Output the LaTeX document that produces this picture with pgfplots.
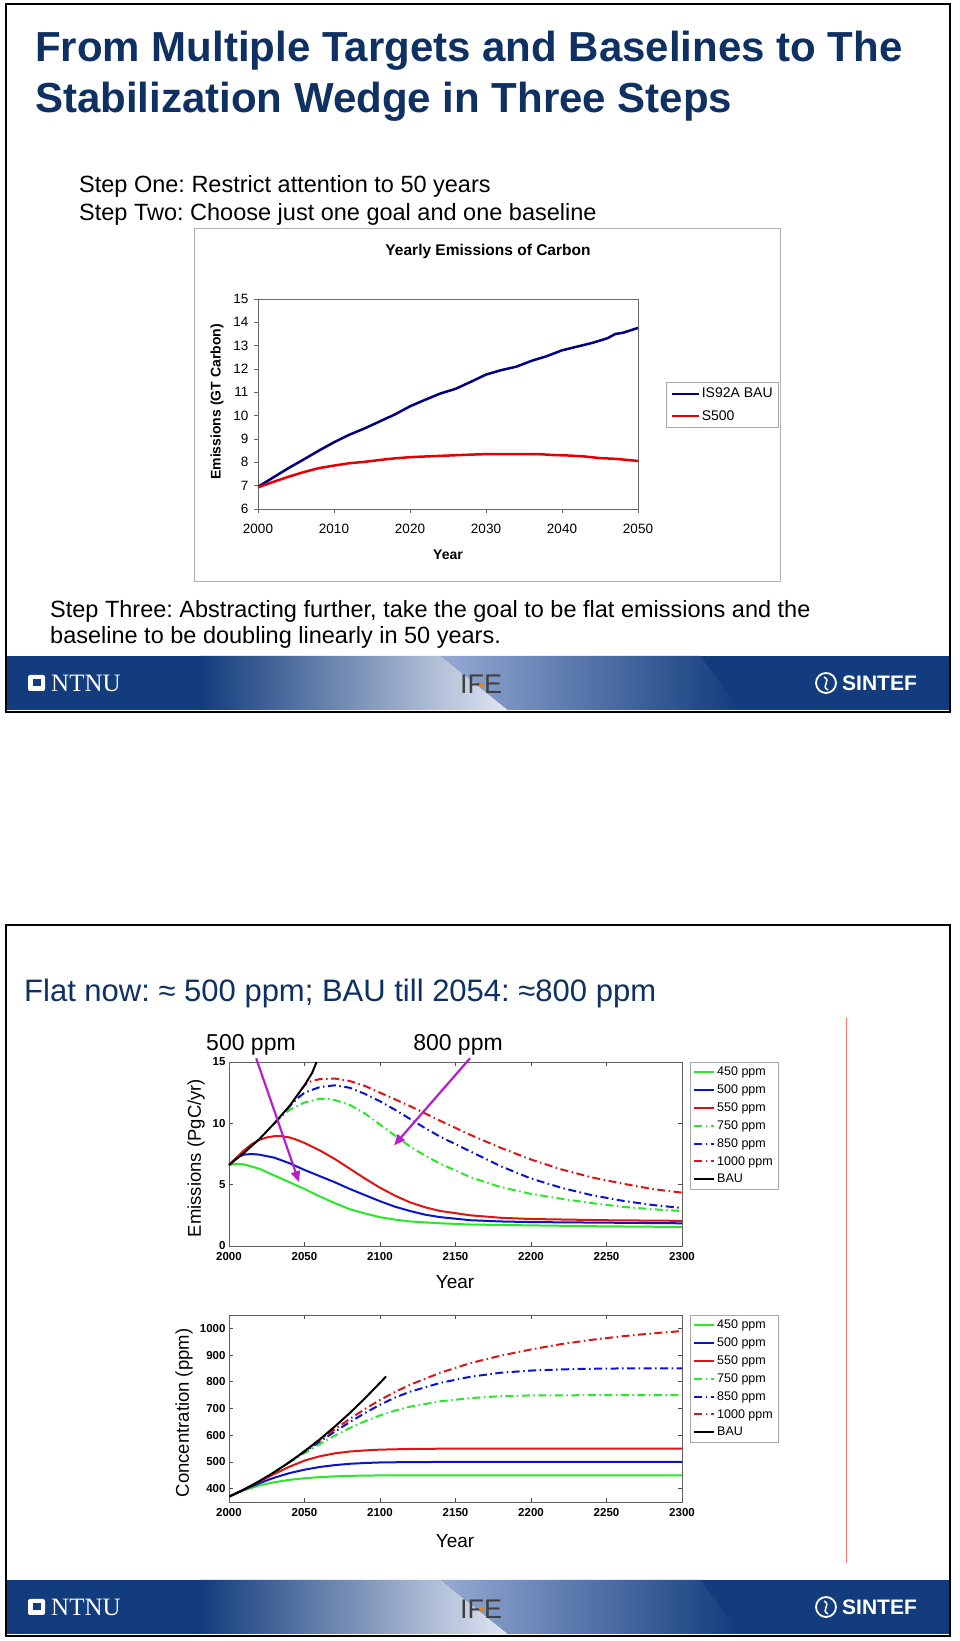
\documentclass[border=0pt]{standalone}
\usepackage{fontspec}
\setmainfont{Liberation Sans}
\newfontfamily\seriffont{Liberation Serif}
\usepackage{pgfplots}
\usepackage{pgfplotstable}
\pgfplotsset{compat=1.18}
\usetikzlibrary{arrows.meta}
\frenchspacing

\definecolor{titlenavy}{RGB}{14,48,98}
\definecolor{footnavy}{RGB}{18,60,125}
\definecolor{footlight}{RGB}{225,230,242}
\definecolor{footmid}{RGB}{150,170,212}
\definecolor{bau}{RGB}{0,0,128}
\definecolor{sfive}{RGB}{232,0,0}
\definecolor{mgreen}{RGB}{40,232,40}
\definecolor{mblue}{RGB}{10,20,205}
\definecolor{mred}{RGB}{222,20,20}
\definecolor{arrowmag}{RGB}{185,30,205}

% ---- slide 1: yearly emissions of carbon
\pgfplotstableread{
year val
2000 6.95
2002 7.35
2004 7.75
2006 8.12
2008 8.50
2010 8.86
2012 9.18
2014 9.45
2016 9.75
2018 10.05
2020 10.40
2022 10.68
2024 10.95
2026 11.15
2028 11.45
2030 11.76
2032 11.95
2034 12.10
2036 12.35
2038 12.55
2040 12.80
2042 12.96
2044 13.12
2046 13.32
2047 13.50
2048 13.55
2050 13.76
}\isbau
\pgfplotstableread{
year val
2000 6.93
2002 7.16
2004 7.38
2006 7.58
2008 7.75
2010 7.86
2012 7.96
2014 8.02
2016 8.10
2018 8.17
2020 8.22
2022 8.25
2025 8.29
2028 8.33
2030 8.35
2035 8.35
2037 8.35
2039 8.31
2041 8.29
2043 8.25
2045 8.18
2047 8.15
2048 8.12
2050 8.06
}\sfivehundred

% ---- slide 2: emissions (PgC/yr)
\pgfplotstableread{
year val
2000 6.6
2005 6.7
2010 6.65
2020 6.3
2030 5.75
2040 5.2
2050 4.65
2060 4.05
2070 3.5
2080 3.0
2090 2.65
2100 2.35
2110 2.15
2120 2.0
2140 1.85
2160 1.75
2200 1.68
2250 1.6
2300 1.55
}\eA
\pgfplotstableread{
year val
2000 6.6
2005 7.2
2010 7.45
2015 7.5
2020 7.45
2030 7.2
2040 6.75
2050 6.2
2060 5.7
2070 5.2
2080 4.65
2090 4.15
2100 3.65
2110 3.2
2120 2.85
2130 2.55
2140 2.35
2160 2.1
2180 2.0
2200 1.95
2250 1.9
2300 1.85
}\eB
\pgfplotstableread{
year val
2000 6.6
2005 7.2
2010 7.8
2015 8.3
2020 8.65
2025 8.85
2030 8.95
2035 8.95
2040 8.85
2045 8.65
2050 8.4
2060 7.8
2070 7.1
2080 6.3
2090 5.5
2100 4.75
2110 4.1
2120 3.55
2130 3.15
2140 2.85
2160 2.5
2180 2.3
2200 2.2
2250 2.1
2300 2.05
}\eC
\pgfplotstableread{
year val
2030 10.0
2040 11.1
2050 11.7
2060 12.0
2065 12.0
2070 11.9
2080 11.5
2090 10.8
2100 9.9
2110 9.0
2120 8.1
2130 7.35
2140 6.7
2160 5.6
2180 4.8
2200 4.25
2220 3.85
2240 3.5
2260 3.2
2280 3.0
2300 2.85
}\eD
\pgfplotstableread{
year val
2038 11.1
2045 12.0
2050 12.5
2060 12.95
2070 13.1
2080 12.9
2090 12.4
2100 11.8
2110 11.1
2120 10.35
2130 9.6
2140 8.9
2160 7.7
2180 6.5
2200 5.5
2220 4.75
2240 4.15
2260 3.7
2280 3.35
2300 3.1
}\eE
\pgfplotstableread{
year val
2048 12.8
2052 13.35
2060 13.6
2070 13.65
2080 13.45
2090 13.05
2100 12.5
2110 11.95
2120 11.4
2140 10.2
2160 9.05
2180 8.0
2200 7.05
2220 6.25
2240 5.6
2260 5.1
2280 4.65
2300 4.35
}\eF
\pgfplotstableread{
year val
2000 6.6
2010 7.6
2020 8.7
2030 10.0
2040 11.4
2050 13.1
2055 14.1
2058 15.0
}\eBAU

% ---- slide 2: concentration (ppm)
\pgfplotstableread{
year val
2000 370
2010 394
2020 412
2030 424
2040 433
2050 439
2060 443
2070 446
2080 448
2100 449.5
2150 450
2300 450
}\cA
\pgfplotstableread{
year val
2000 370
2010 396
2020 420
2030 441
2040 458
2050 471
2060 481
2070 488
2080 493
2090 496
2100 498
2120 499.5
2150 500
2300 500
}\cB
\pgfplotstableread{
year val
2000 370
2010 397
2020 426
2030 455
2040 482
2050 505
2060 521
2070 532
2080 539
2090 543
2100 546
2120 548.5
2150 550
2300 550
}\cC
\pgfplotstableread{
year val
2030 462
2040 498
2050 533
2060 567
2070 598
2080 627
2090 652
2100 674
2110 692
2120 707
2140 727
2160 739
2180 746
2200 749
2250 750
2300 750
}\cD
\pgfplotstableread{
year val
2038 492
2050 538
2060 576
2070 613
2080 649
2090 683
2100 714
2110 741
2120 763
2140 796
2160 819
2180 834
2200 842
2230 848
2260 850
2300 850
}\cE
\pgfplotstableread{
year val
2048 532
2060 582
2070 622
2080 661
2090 698
2100 732
2110 762
2120 789
2140 834
2160 870
2180 898
2200 921
2220 941
2240 957
2260 970
2280 981
2300 990
}\cF
\pgfplotstableread{
year val
2000 370
2010 397
2020 428
2030 462
2040 499
2050 540
2060 584
2070 632
2080 683
2090 738
2100 796
2104 820
}\cBAU

\pgfplotsset{
  matlab/.style={
    scale only axis, anchor=south west,
    xmin=2000, xmax=2300,
    xtick={2000,2050,...,2300},
    tick align=inside, tick pos=both, major tick length=4pt,
    axis line style={draw=gray!75!black, line width=0.7pt},
    every tick/.style={gray!60!black, line width=0.6pt},
    /pgf/number format/1000 sep={},
    /pgf/number format/assume math mode=true,
    ticklabel style={font=\bfseries\fontsize{11.5}{11.5}\selectfont},
    xticklabel style={yshift=-3pt},
    legend style={at={(1.0177,1)}, anchor=north west, draw=gray!70,
      font=\fontsize{12.5}{12.5}\selectfont, row sep=3.6pt,
      inner xsep=3pt, inner ysep=3pt, cells={anchor=west}},
    legend image code/.code={\draw[##1] (0pt,0pt)--(20pt,0pt);},
  },
  dd/.style={dash pattern=on 8pt off 3.5pt on 1.5pt off 3.5pt},
}

% footer band, local height 54
\newcommand{\slidefooter}[1]{%
\begin{scope}[yshift=#1]
  \fill[footnavy] (6,0) rectangle (950,54);
  \shade[left color=footnavy, right color=footlight] (200,0) -- (200,54) -- (441,54) -- (508,0) -- cycle;
  \shade[left color=footmid, right color=footnavy] (441,54) -- (508,0) -- (740,0) -- (700,54) -- cycle;
  \fill[white, rounded corners=2pt] (28,19) rectangle (45,35);
  \fill[footnavy] (32.5,23.5) rectangle (40.5,30.5);
  \node[anchor=base west, inner sep=0, text=white, font=\seriffont\fontsize{25}{25}\selectfont] at (51,18) {NTNU};
  \node[anchor=base, inner sep=0, text=black!75, font=\fontsize{27}{27}\selectfont] at (481,16) {IFE};
  \fill[orange] (481,25) circle (2);
  \draw[white, line width=1.8pt] (826,27) circle (10);
  \draw[white, line width=1.5pt] (824,33) .. controls (832,29) and (820,24) .. (828,20);
  \node[anchor=base west, inner sep=0, text=white, font=\bfseries\fontsize{21}{21}\selectfont] at (842,19) {SINTEF};
\end{scope}}

\begin{document}
\begin{tikzpicture}[x=1pt,y=1pt]
\useasboundingbox (0,0) rectangle (960,1641);
\fill[white] (0,0) rectangle (960,1641);

% ================= slide 1 =================
\slidefooter{931pt}
\draw[line width=2.5pt] (6,929) rectangle (950,1637);

\node[anchor=base west, inner sep=0, text=titlenavy, font=\bfseries\fontsize{42}{42}\selectfont] at (35,1579) {From Multiple Targets and Baselines to The};
\node[anchor=base west, inner sep=0, text=titlenavy, font=\bfseries\fontsize{42}{42}\selectfont] at (35,1528) {Stabilization Wedge in Three Steps};

\node[anchor=base west, inner sep=0, font=\fontsize{23.5}{23.5}\selectfont] at (79,1448) {Step One: Restrict attention to 50 years};
\node[anchor=base west, inner sep=0, font=\fontsize{23.5}{23.5}\selectfont] at (79,1420) {Step Two: Choose just one goal and one baseline};

\draw[gray!60, line width=0.8pt] (194,1060) rectangle (780,1413);
\node[font=\bfseries\fontsize{15.5}{15.5}\selectfont] at (488,1389) {Yearly Emissions of Carbon};
\node[rotate=90, font=\bfseries\fontsize{14}{14}\selectfont] at (217,1239) {Emissions (GT Carbon)};
\node[font=\bfseries\fontsize{14}{14}\selectfont] at (448,1086) {Year};

\begin{axis}[
  at={(258pt,1132pt)}, anchor=south west, scale only axis,
  width=380pt, height=210pt,
  xmin=2000, xmax=2050, ymin=6, ymax=15,
  xtick={2000,2010,...,2050}, ytick={6,7,...,15},
  tick pos=left, tick align=outside, major tick length=4pt,
  axis line style={draw=gray!80!black, line width=0.8pt},
  every tick/.style={gray!80!black, line width=0.8pt},
  /pgf/number format/1000 sep={},
  /pgf/number format/assume math mode=true,
  ticklabel style={font=\fontsize{13.5}{13.5}\selectfont},
  xticklabel style={yshift=-8pt}, yticklabel style={xshift=-2pt},
  legend style={at={(1.074,0.605)}, anchor=north west, draw=gray!70,
    font=\fontsize{14}{14}\selectfont, row sep=7pt,
    inner xsep=4pt, inner ysep=4pt, cells={anchor=west}},
  legend image code/.code={\draw[#1] (0pt,0pt)--(27pt,0pt);},
]
\addplot[bau, line width=2.5pt] table {\isbau};
\addlegendentry{IS92A BAU}
\addplot[sfive, line width=2.5pt] table {\sfivehundred};
\addlegendentry{S500}
\end{axis}

\node[anchor=base west, inner sep=0, font=\fontsize{23.5}{23.5}\selectfont] at (50,1023) {Step Three: Abstracting further, take the goal to be flat emissions and the};
\node[anchor=base west, inner sep=0, font=\fontsize{23.5}{23.5}\selectfont] at (50,997) {baseline to be doubling linearly in 50 years.};

% ================= slide 2 =================
\slidefooter{7pt}
\draw[line width=2.5pt] (6,5) rectangle (950,716);

\node[anchor=base west, inner sep=0, text=titlenavy, font=\fontsize{31}{31}\selectfont] at (24,639) {Flat now: ≈ 500 ppm; BAU till 2054: ≈800 ppm};
\draw[red!55!white, line width=0.8pt] (846,623) -- (846,78);

\node[font=\fontsize{23}{23}\selectfont] at (251,596) {500 ppm};
\node[font=\fontsize{23}{23}\selectfont] at (458,596) {800 ppm};

\node[rotate=90, font=\fontsize{18.5}{18.5}\selectfont] at (196,483) {Emissions (PgC/yr)};
\node[font=\fontsize{19}{19}\selectfont] at (455,359) {Year};

\begin{axis}[matlab,
  at={(229pt,395pt)}, width=453pt, height=184pt,
  ymin=0, ymax=15, ytick={0,5,10,15},
  clip=false,
]
\addplot[mgreen, line width=2pt] table {\eA};
\addlegendentry{450 ppm}
\addplot[mblue, line width=2pt] table {\eB};
\addlegendentry{500 ppm}
\addplot[mred, line width=2pt] table {\eC};
\addlegendentry{550 ppm}
\addplot[mgreen, line width=2pt, dd] table {\eD};
\addlegendentry{750 ppm}
\addplot[mblue, line width=2pt, dd] table {\eE};
\addlegendentry{850 ppm}
\addplot[mred, line width=2pt, dd] table {\eF};
\addlegendentry{1000 ppm}
\addplot[black, line width=2pt] table {\eBAU};
\addlegendentry{BAU}
\draw[arrowmag, line width=2.2pt, -{Triangle[length=11pt,width=9pt]}] (axis cs:2018,15.3) -- (axis cs:2046.4,5.2);
\draw[arrowmag, line width=2.2pt, -{Triangle[length=11pt,width=9pt]}] (axis cs:2159.6,15.3) -- (axis cs:2109.3,8.2);
\end{axis}

\node[rotate=90, font=\fontsize{18.5}{18.5}\selectfont] at (184,228) {Concentration (ppm)};
\node[font=\fontsize{19}{19}\selectfont] at (455,100) {Year};

\begin{axis}[matlab,
  at={(229pt,139pt)}, width=453pt, height=187pt,
  ymin=350, ymax=1050, ytick={400,500,...,1000},
]
\addplot[mgreen, line width=2pt] table {\cA};
\addlegendentry{450 ppm}
\addplot[mblue, line width=2pt] table {\cB};
\addlegendentry{500 ppm}
\addplot[mred, line width=2pt] table {\cC};
\addlegendentry{550 ppm}
\addplot[mgreen, line width=2pt, dd] table {\cD};
\addlegendentry{750 ppm}
\addplot[mblue, line width=2pt, dd] table {\cE};
\addlegendentry{850 ppm}
\addplot[mred, line width=2pt, dd] table {\cF};
\addlegendentry{1000 ppm}
\addplot[black, line width=2pt] table {\cBAU};
\addlegendentry{BAU}
\end{axis}

\end{tikzpicture}
\end{document}
